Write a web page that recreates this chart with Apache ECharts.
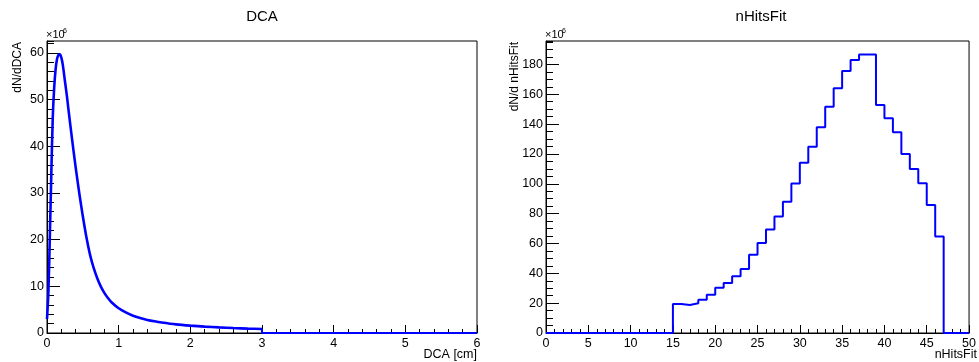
<!DOCTYPE html>
<html>
<head>
<meta charset="utf-8">
<script src="https://cdn.jsdelivr.net/npm/echarts@6/dist/echarts.min.js"></script>
<style>
html,body{margin:0;padding:0;background:#fff;}
#c{width:979px;height:362px;}
</style>
</head>
<body>
<div id="c"></div>
<script>
// ---- Data (values in units of 10^6) ----
const dcaX = [0, 0.02, 0.04, 0.06, 0.08, 0.10, 0.12, 0.14, 0.16, 0.18, 0.20, 0.22, 0.25, 0.28, 0.30, 0.35, 0.40, 0.45, 0.50, 0.55, 0.60, 0.65, 0.70, 0.75, 0.80, 0.85, 0.90, 1.0, 1.1, 1.2, 1.3, 1.4, 1.5, 1.6, 1.8, 2.0, 2.2, 2.4, 2.6, 2.8, 3.0];
const dcaY = [3, 9, 21, 34, 46, 52.5, 56.5, 58.7, 59.6, 59.7, 59, 57.5, 54, 50.5, 47.8, 41.5, 35.5, 30.0, 25.0, 20.5, 16.8, 14.0, 11.8, 10.0, 8.6, 7.5, 6.6, 5.3, 4.4, 3.7, 3.2, 2.8, 2.5, 2.25, 1.85, 1.58, 1.37, 1.2, 1.06, 0.94, 0.85];
const dcaTailX = [3.0, 3.0, 6.0];
const dcaTailY = [0.85, 0, 0];

const nHitsEdges = [0,1,2,3,4,5,6,7,8,9,10,11,12,13,14,15,16,17,18,19,20,21,22,23,24,25,26,27,28,29,30,31,32,33,34,35,36,37,38,39,40,41,42,43,44,45,46,47,48,49,50];
const nHitsVals = [0,0,0,0,0,0,0,0,0,0,0,0,0,0,0, 19.5, 18.7, 20.0, 22.3, 25.7, 30.4, 33.5, 38.0, 42.9, 52.5, 60.3, 69.4, 78.0, 88.0, 100.2, 114.1, 124.9, 137.9, 151.7, 164.0, 175.6, 183.0, 186.7, 186.7, 152.8, 143.9, 134.5, 120.0, 109.9, 100.3, 85.8, 64.6, 0, 0, 0, 0];

const FONT = '"Liberation Sans", Arial, Helvetica, sans-serif';
const BLUE = '#0000ff';

const chart = echarts.init(document.getElementById('c'), null, {renderer: 'canvas'});

function mainX(grid, max, interval, minorSplit) {
  return {
    type: 'value', gridIndex: grid, min: 0, max: max, interval: interval, position: 'bottom',
    axisLine: {show: true, lineStyle: {color: '#000', width: 1}},
    axisTick: {show: true, inside: true, length: 8, lineStyle: {color: '#000'}},
    minorTick: {show: true, splitNumber: minorSplit, length: 4, lineStyle: {color: '#000'}},
    axisLabel: {show: true, margin: 4, color: '#000', fontFamily: FONT, fontSize: 12.5, alignMinLabel: 'center', alignMaxLabel: 'center'},
    splitLine: {show: false}, minorSplitLine: {show: false}
  };
}
function yAx(grid, max, interval, len, labels) {
  return {
    type: 'value', gridIndex: grid, min: 0, max: max, interval: interval, position: 'left',
    axisLine: {show: labels, lineStyle: {color: '#000', width: 1}},
    axisTick: {show: true, inside: true, length: len, lineStyle: {color: '#000'}},
    axisLabel: {show: labels, margin: 3, color: '#000', fontFamily: FONT, fontSize: 12.5, showMaxLabel: false, showMinLabel: true},
    splitLine: {show: false}
  };
}

const option = {
  animation: false,
  backgroundColor: '#fff',
  grid: [
    {left: 47, top: 41, width: 430, height: 292, show: true, borderColor: '#000', borderWidth: 1, backgroundColor: 'transparent', containLabel: false},
    {left: 546, top: 41, width: 431, height: 292, show: true, borderColor: '#000', borderWidth: 1, backgroundColor: 'transparent', containLabel: false}
  ],
  xAxis: [
    mainX(0, 6, 1, 5),
    mainX(1, 50, 5, 5)
  ],
  yAxis: [
    yAx(0, 62.57, 10, 13, true),
    yAx(0, 62.57, 2, 7, false),
    yAx(1, 195.7, 20, 13, true),
    yAx(1, 195.7, 5, 7, false)
  ],
  series: [
    {
      type: 'line', xAxisIndex: 0, yAxisIndex: 0, showSymbol: false, smooth: 0.3,
      data: dcaX.map((x, i) => [x, dcaY[i]]),
      lineStyle: {color: BLUE, width: 2.6}, itemStyle: {color: BLUE}, z: 5
    },
    {
      type: 'line', xAxisIndex: 0, yAxisIndex: 0, showSymbol: false,
      data: dcaTailX.map((x, i) => [x, dcaTailY[i]]),
      lineStyle: {color: BLUE, width: 2}, itemStyle: {color: BLUE}, z: 5
    },
    {
      type: 'line', xAxisIndex: 1, yAxisIndex: 2, showSymbol: false, step: 'end',
      data: nHitsEdges.map((x, i) => [x, nHitsVals[i]]),
      lineStyle: {color: BLUE, width: 2}, itemStyle: {color: BLUE}, z: 5
    }
  ],
  graphic: [
    {type: 'text', x: 262, y: 17, style: {text: 'DCA', font: '15px ' + FONT, fill: '#000', align: 'center', verticalAlign: 'middle'}},
    {type: 'text', x: 761, y: 17, style: {text: 'nHitsFit', font: '15px ' + FONT, fill: '#000', align: 'center', verticalAlign: 'middle'}},
    {type: 'text', x: 18, y: 42, rotation: Math.PI / 2, style: {text: 'dN/dDCA', font: '12px ' + FONT, fill: '#000', align: 'right', verticalAlign: 'middle'}},
    {type: 'text', x: 515, y: 42, rotation: Math.PI / 2, style: {text: 'dN/d nHitsFit', font: '12px ' + FONT, fill: '#000', align: 'right', verticalAlign: 'middle'}},
    {type: 'text', x: 477, y: 355, style: {text: 'DCA [cm]', font: '12.5px ' + FONT, fill: '#000', align: 'right', verticalAlign: 'middle'}},
    {type: 'text', x: 977, y: 355, style: {text: 'nHitsFit', font: '12.5px ' + FONT, fill: '#000', align: 'right', verticalAlign: 'middle'}},
    {type: 'text', x: 46, y: 35, style: {text: '×10', font: '11px ' + FONT, fill: '#000', align: 'left', verticalAlign: 'middle'}},
    {type: 'text', x: 63, y: 31, style: {text: '6', font: '7px ' + FONT, fill: '#000', align: 'left', verticalAlign: 'middle'}},
    {type: 'text', x: 545, y: 35, style: {text: '×10', font: '11px ' + FONT, fill: '#000', align: 'left', verticalAlign: 'middle'}},
    {type: 'text', x: 562, y: 31, style: {text: '6', font: '7px ' + FONT, fill: '#000', align: 'left', verticalAlign: 'middle'}}
  ]
};
chart.setOption(option);
</script>
</body>
</html>
